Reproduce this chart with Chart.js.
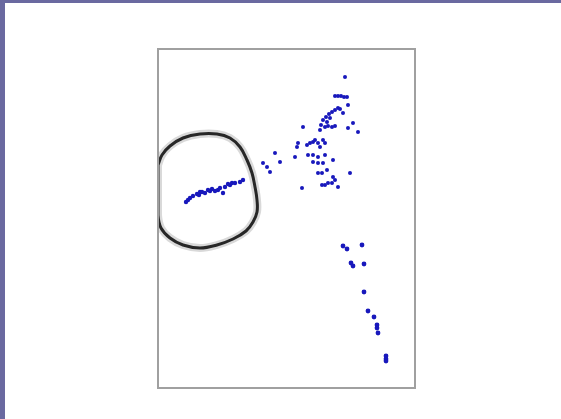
<!DOCTYPE html>
<html>
<head>
<meta charset="utf-8">
<script src="https://cdn.jsdelivr.net/npm/chart.js@4/dist/chart.umd.min.js"></script>
<style>
  html, body { margin: 0; padding: 0; background: #fff; }
  #frame {
    width: 556px; height: 416px;
    border-left: 5px solid #6a69a0;
    border-top: 3px solid #6a69a0;
    background: #fff;
  }
  canvas { display: block; }
</style>
</head>
<body>
<div id="frame"><canvas id="plot" width="556" height="416"></canvas></div>
<script>
// cluster inside the ring
const ringedX = [28, 30, 32, 35, 39, 41, 42, 44, 47, 50, 52, 54, 57, 60, 62, 65, 67, 70, 72, 74, 77, 82, 85]
const ringedY = [186, 188, 190, 192, 194, 193, 196, 196, 195, 198, 197, 199, 197, 198, 200, 195, 201, 204, 203, 205, 205, 206, 208]

// upper right spread
const upperX = [187, 177, 180, 183, 186, 189, 165, 168, 171, 174, 177, 180, 182, 172, 169, 163, 162, 190, 185, 195, 145, 170, 174, 190, 200, 167, 177,
  117, 105, 109, 112, 122, 137, 139, 140, 149, 152, 155, 157, 160, 165, 167, 162, 150, 155, 160, 167, 175, 155, 160, 165, 169, 160, 164,
  175, 177, 192, 164, 167, 170, 174, 180, 144]
const upperY = [311, 292, 292, 292, 291, 291, 268, 271, 274, 276, 278, 280, 279, 270, 266, 263, 258, 283, 275, 265, 261, 262, 261, 260, 256, 261, 262,
  235, 225, 221, 216, 226, 231, 241, 245, 243, 245, 246, 248, 245, 248, 245, 241, 233, 233, 231, 233, 228, 226, 225, 225, 218, 215, 215,
  211, 208, 215, 203, 203, 205, 205, 201, 200]

// lower right tail
const lowerX = [185, 189, 204, 193, 195, 206, 206, 210, 216, 219, 219, 220, 228, 228, 228]
const lowerY = [142, 139, 143, 125, 122, 124, 96, 77, 71, 63, 60, 55, 32, 29, 27]

// hand drawn ring outline
const ringX = [0, 4, 12, 25, 42, 59, 72, 82, 89, 94, 97, 99, 99, 95, 88, 75, 59, 42, 25, 12, 3, 0, 0, 0]
const ringY = [223, 233, 242, 250, 254, 254, 250, 241, 228, 215, 201, 188, 176, 166, 157, 149, 143, 140, 143, 150, 160, 173, 198, 223]

const pairs = (xs, ys) => xs.map((x, i) => ({ x, y: ys[i] }))

const boxPlugin = {
  id: 'box',
  afterDraw(chart) {
    const { ctx, chartArea: a } = chart
    ctx.save()
    ctx.strokeStyle = '#a0a0a0'
    ctx.lineWidth = 2
    ctx.strokeRect(a.left, a.top, a.right - a.left, a.bottom - a.top)
    ctx.restore()
  }
}

const dots = { pointRadius: 2, pointBackgroundColor: '#1818bc', pointBorderWidth: 0, showLine: false }

new Chart(document.querySelector('#plot'), {
  type: 'scatter',
  data: {
    datasets: [
      { data: pairs(ringX, ringY), showLine: true, pointRadius: 0, borderColor: 'rgba(0,0,0,0.15)', borderWidth: 8, tension: 0.4, fill: false },
      { data: pairs(ringX, ringY), showLine: true, pointRadius: 0, borderColor: '#2e2e2e', borderWidth: 3, tension: 0.4, fill: false },
      { data: pairs(ringedX, ringedY), ...dots, pointRadius: 2.2 },
      { data: pairs(upperX, upperY), ...dots },
      { data: pairs(lowerX, lowerY), ...dots, pointRadius: 2.4 }
    ]
  },
  options: {
    responsive: false,
    animation: false,
    layout: { padding: { left: 153, right: 146, top: 46, bottom: 31 } },
    plugins: { legend: { display: false }, tooltip: { enabled: false } },
    scales: {
      x: { type: 'linear', min: 0, max: 257, display: false },
      y: { type: 'linear', min: 0, max: 339, display: false }
    }
  },
  plugins: [boxPlugin]
})
</script>
</body>
</html>
